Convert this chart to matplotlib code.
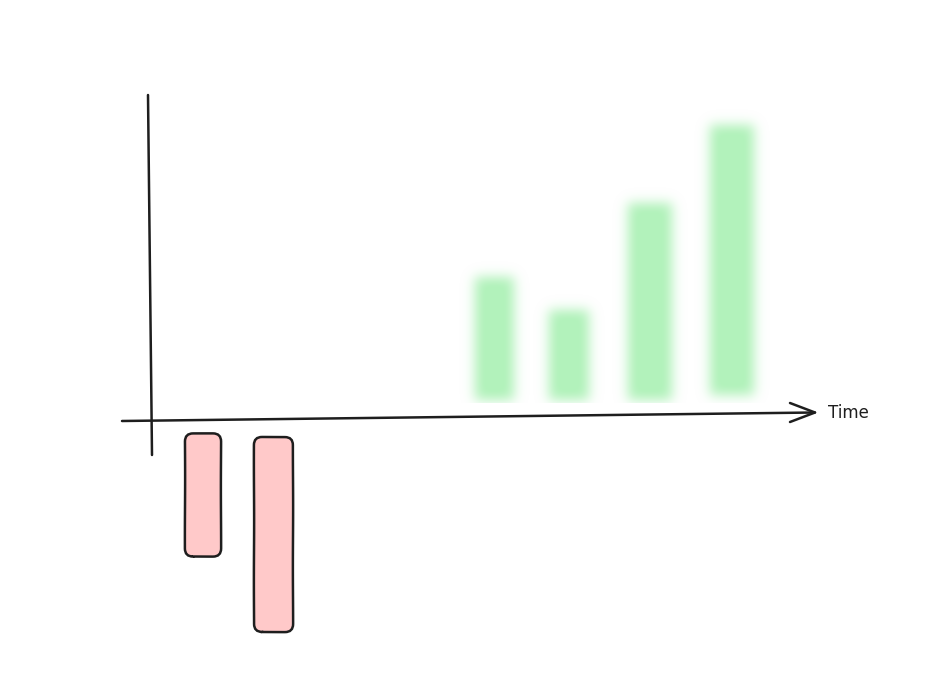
"""
Hand-drawn style sketch: negative (red) and positive (blurred green) bars
along a Time axis.
"""

import matplotlib
matplotlib.use("Agg")

import matplotlib.pyplot as plt
import numpy as np
from matplotlib.patches import FancyBboxPatch

# ── data ─────────────────────────────────────────────────────────────────────
RED_TIME   = [5.3, 12.35]
RED_WIDTH  = [3.6, 3.9]
RED_VALUE  = [-12.3, -19.5]
RED_START  = [-1.35, -1.7]      # gap between axis and top of bar

GREEN_TIME  = [34.5, 41.9, 50.05, 58.25]
GREEN_WIDTH = [3.9, 4.0, 4.4, 4.4]
GREEN_VALUE = [12.3, 9.0, 19.7, 27.0]
GREEN_START = [2.0, 2.0, 2.0, 2.5]

AXIS_LABEL = "Time"

# ── style ────────────────────────────────────────────────────────────────────
INK      = "#1e1e1e"
RED_FILL = "#ffc9c9"
GREEN    = "#b2f2bb"

fig = plt.figure(figsize=(9.49, 6.91), dpi=100)
ax = fig.add_axes([0, 0, 1, 1])
ax.set_xlim(-15, 79.9)
ax.set_ylim(-27.1, 42.0)
ax.axis("off")

# ── axes (hand drawn) ────────────────────────────────────────────────────────
ax.plot([-0.2, 0.2], [32.5, -3.5], color=INK, lw=1.8, solid_capstyle="round")
ax.plot([-2.8, 66.5], [-0.1, 0.75], color=INK, lw=1.8, solid_capstyle="round")
ax.plot([64.0, 66.5, 64.0], [1.7, 0.75, -0.2], color=INK, lw=1.8,
        solid_capstyle="round", solid_joinstyle="round")
ax.text(67.8, 0.75, AXIS_LABEL, ha="left", va="center", fontsize=12,
        color=INK, family="DejaVu Sans")

# ── red bars: rounded, outlined ──────────────────────────────────────────────
for t, w, v, s in zip(RED_TIME, RED_WIDTH, RED_VALUE, RED_START):
    box = FancyBboxPatch((t - w / 2, s + v), w, -v,
                         boxstyle="round,pad=0,rounding_size=0.8",
                         fc=RED_FILL, ec=INK, lw=1.8, zorder=3)
    box.set_sketch_params(0.12, 120, 1)
    ax.add_patch(box)

# ── green bars: blurred ──────────────────────────────────────────────────────
res = 0.1
x0, x1, y0, y1 = 30.0, 64.0, 1.7, 32.5
xs = np.arange(x0, x1, res) + res / 2
ys = np.arange(y0 - 4, y1, res) + res / 2
X, Y = np.meshgrid(xs, ys)
mask = np.zeros_like(X)
for t, w, v, s in zip(GREEN_TIME, GREEN_WIDTH, GREEN_VALUE, GREEN_START):
    mask[(X >= t - w / 2) & (X <= t + w / 2) & (Y >= s) & (Y <= s + v)] = 1.0

sigma = 6.0
k = np.arange(-20, 21)
kern = np.exp(-0.5 * (k / sigma) ** 2)
kern /= kern.sum()
mask = np.apply_along_axis(lambda r: np.convolve(r, kern, mode="same"), 1, mask)
mask = np.apply_along_axis(lambda c: np.convolve(c, kern, mode="same"), 0, mask)
keep = ys >= y0
mask = mask[keep]

rgb = np.array(matplotlib.colors.to_rgb(GREEN))
img = np.zeros(mask.shape + (4,))
img[..., :3] = rgb
img[..., 3] = np.clip(mask * 1.05, 0, 1)
ax.imshow(img, extent=[x0, x1, y0, y1], origin="lower",
          interpolation="bilinear", aspect="auto", zorder=2)

fig.savefig("out.png", dpi=100, facecolor="white")
